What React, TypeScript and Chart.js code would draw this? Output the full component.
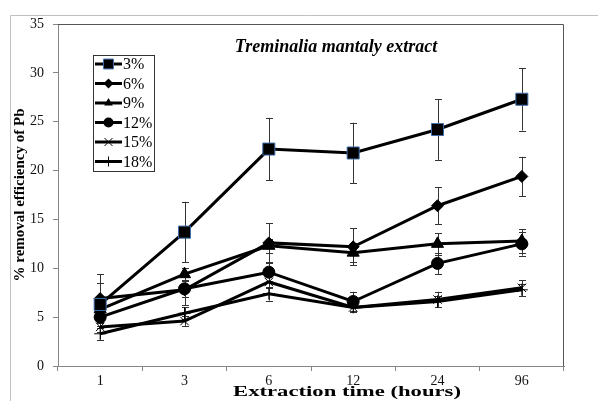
import React, { useEffect, useRef } from 'react';
import { Chart, registerables } from 'chart.js';

Chart.register(...registerables);

// ---- data ----
const categories = ['1', '3', '6', '12', '24', '96'];
const seriesLabels = ['3%', '6%', '9%', '12%', '15%', '18%'];

const pb3 = [6.3, 13.7, 22.2, 21.8, 24.2, 27.3];
const err3 = [2.2, 3.1, 3.2, 3.1, 3.1, 3.2];
const pb6 = [6.9, 7.8, 12.6, 12.2, 16.4, 19.4];
const err6 = [2.5, 1.6, 2.0, 1.9, 1.9, 2.0];
const pb9 = [5.8, 9.4, 12.3, 11.6, 12.5, 12.8];
const err9 = [0.8, 0.6, 0.7, 1.0, 1.1, 1.2];
const pb12 = [5.0, 7.9, 9.6, 6.6, 10.5, 12.5];
const err12 = [0.6, 0.8, 0.9, 1.0, 1.1, 1.2];
const pb15 = [4.0, 4.6, 8.6, 6.0, 6.8, 8.0];
const err15 = [0.5, 0.5, 0.6, 0.5, 0.8, 0.8];
const pb18 = [3.3, 5.4, 7.4, 6.0, 6.6, 7.8];
const err18 = [0.6, 0.6, 0.7, 0.5, 0.6, 0.6];

const yMin = 0;
const yMax = 35;
const yStep = 5;

const chartTitle = 'Treminalia mantaly extract';
const xTitle = 'Extraction time (hours)';
const yTitle = '% removal efficiency of Pb';

const values = [pb3, pb6, pb9, pb12, pb15, pb18];
const errors = [err3, err6, err9, err12, err15, err18];
const markers = ['rect', 'rectRot', 'triangle', 'circle', 'crossRot', 'cross'];
const markerRadius = [8.5, 6, 7, 6, 6, 6];

const SERIF = '"Liberation Serif", "Times New Roman", serif';

function drawMarker(ctx: CanvasRenderingContext2D, style: string, x: number, y: number, r: number, border: string) {
  ctx.save();
  ctx.fillStyle = '#000';
  ctx.strokeStyle = border;
  ctx.lineWidth = 1;
  ctx.beginPath();
  if (style === 'rect') {
    const s = Math.SQRT1_2 * r;
    ctx.rect(x - s, y - s, 2 * s, 2 * s);
    ctx.fill();
    ctx.stroke();
  } else if (style === 'rectRot') {
    ctx.moveTo(x, y - r);
    ctx.lineTo(x + r, y);
    ctx.lineTo(x, y + r);
    ctx.lineTo(x - r, y);
    ctx.closePath();
    ctx.fill();
  } else if (style === 'triangle') {
    ctx.moveTo(x, y - r);
    ctx.lineTo(x + r * 0.866, y + r * 0.5);
    ctx.lineTo(x - r * 0.866, y + r * 0.5);
    ctx.closePath();
    ctx.fill();
  } else if (style === 'circle') {
    ctx.arc(x, y, r, 0, Math.PI * 2);
    ctx.fill();
  } else if (style === 'crossRot') {
    const s = r * 0.8;
    ctx.moveTo(x - s, y - s);
    ctx.lineTo(x + s, y + s);
    ctx.moveTo(x + s, y - s);
    ctx.lineTo(x - s, y + s);
    ctx.strokeStyle = '#000';
    ctx.stroke();
  } else if (style === 'cross') {
    ctx.moveTo(x, y - r);
    ctx.lineTo(x, y + r);
    ctx.moveTo(x - r, y);
    ctx.lineTo(x + r, y);
    ctx.strokeStyle = '#000';
    ctx.stroke();
  }
  ctx.restore();
}

const decorPlugin = {
  id: 'decor',
  beforeDraw(chart: any) {
    const { ctx } = chart;
    ctx.save();
    ctx.fillStyle = '#fff';
    ctx.fillRect(0, 0, chart.width, chart.height);
    // outer frame
    ctx.strokeStyle = '#c0c0c0';
    ctx.lineWidth = 1;
    ctx.beginPath();
    ctx.moveTo(10.5, chart.height);
    ctx.lineTo(10.5, 15.5);
    ctx.lineTo(chart.width, 15.5);
    ctx.stroke();
    ctx.restore();
  },
  beforeDatasetsDraw(chart: any) {
    const { ctx } = chart;
    const xs = chart.scales.x;
    const ys = chart.scales.y;
    ctx.save();
    ctx.strokeStyle = '#333';
    ctx.lineWidth = 1;
    errors.forEach((errArr, si) => {
      errArr.forEach((e, i) => {
        const v = values[si][i];
        const x = Math.round(xs.getPixelForValue(i)) + 0.5;
        const yt = ys.getPixelForValue(v + e);
        const yb = ys.getPixelForValue(v - e);
        ctx.beginPath();
        ctx.moveTo(x, yt);
        ctx.lineTo(x, yb);
        ctx.moveTo(x - 3.5, Math.round(yt) + 0.5);
        ctx.lineTo(x + 3.5, Math.round(yt) + 0.5);
        ctx.moveTo(x - 3.5, Math.round(yb) + 0.5);
        ctx.lineTo(x + 3.5, Math.round(yb) + 0.5);
        ctx.stroke();
      });
    });
    ctx.restore();
  },
  afterDraw(chart: any) {
    const { ctx, chartArea } = chart;
    ctx.save();
    // plot frame top/right
    ctx.strokeStyle = '#555';
    ctx.lineWidth = 1;
    ctx.beginPath();
    ctx.moveTo(chartArea.left, chartArea.top + 0.5);
    ctx.lineTo(chartArea.right - 0.5, chartArea.top + 0.5);
    ctx.lineTo(chartArea.right - 0.5, chartArea.bottom);
    ctx.stroke();

    // chart title
    ctx.fillStyle = '#000';
    ctx.textAlign = 'center';
    ctx.textBaseline = 'middle';
    ctx.font = `bold italic 18px ${SERIF}`;
    ctx.fillText(chartTitle, 336, 47);

    // x title (stretched horizontally like the reference)
    ctx.font = `bold 15px ${SERIF}`;
    const tw = ctx.measureText(xTitle).width;
    const targetW = 228;
    ctx.save();
    ctx.translate(347, 392);
    ctx.scale(targetW / tw, 1);
    ctx.fillText(xTitle, 0, 0);
    ctx.restore();

    // y title
    ctx.save();
    ctx.translate(20, (chartArea.top + chartArea.bottom) / 2);
    ctx.rotate(-Math.PI / 2);
    ctx.fillText(yTitle, 0, 0);
    ctx.restore();

    // legend
    const lx = 93, ly = 55, lw = 61, lh = 116;
    ctx.strokeStyle = '#333';
    ctx.lineWidth = 1;
    ctx.strokeRect(lx + 0.5, ly + 0.5, lw, lh);
    ctx.font = `16px ${SERIF}`;
    ctx.textAlign = 'left';
    seriesLabels.forEach((lab, i) => {
      const cy = 64 + i * 19.5;
      ctx.strokeStyle = '#000';
      ctx.lineWidth = 3;
      ctx.beginPath();
      ctx.moveTo(95, cy);
      ctx.lineTo(122, cy);
      ctx.stroke();
      drawMarker(ctx, markers[i], 108.5, cy, i === 0 ? 7 : 5, i === 0 ? '#3d6da8' : '#000');
      ctx.fillStyle = '#000';
      ctx.fillText(lab, 123, cy + 1);
    });
    ctx.restore();
  },
};

export default function App() {
  const ref = useRef<HTMLCanvasElement | null>(null);

  useEffect(() => {
    if (!ref.current) return;
    const datasets = values.map((vals, i) => ({
      label: seriesLabels[i],
      data: vals,
      borderColor: '#000',
      backgroundColor: '#000',
      borderWidth: 3,
      pointStyle: markers[i] as any,
      pointRadius: markerRadius[i],
      pointBackgroundColor: '#000',
      pointBorderColor: i === 0 ? '#3d6da8' : '#000',
      pointBorderWidth: 1,
      tension: 0,
      fill: false,
    }));
    const chart = new Chart(ref.current, {
      type: 'line',
      data: { labels: categories, datasets },
      plugins: [decorPlugin],
      options: {
        responsive: false,
        animation: false,
        devicePixelRatio: 1,
        layout: { padding: { left: 10, top: 24, right: 34, bottom: 0 } },
        plugins: {
          legend: { display: false },
          tooltip: { enabled: false },
          title: { display: false },
        },
        scales: {
          x: {
            type: 'category',
            offset: true,
            grid: { offset: true, drawOnChartArea: false, drawTicks: true, tickLength: 5, color: '#868686' },
            border: { color: '#868686', width: 1 },
            ticks: { font: { family: SERIF, size: 14 }, color: '#111', padding: 2, maxRotation: 0, autoSkip: false },
            afterFit: (s: any) => { s.height = 35; },
          },
          y: {
            min: yMin,
            max: yMax,
            grid: { drawOnChartArea: false, drawTicks: true, tickLength: 5, color: '#868686' },
            border: { color: '#868686', width: 1 },
            ticks: { stepSize: yStep, font: { family: SERIF, size: 14 }, color: '#111', padding: 9 },
            afterFit: (s: any) => { s.width = 48; },
          },
        },
      },
    });
    return () => chart.destroy();
  }, []);

  return (
    <div style={{ position: 'absolute', left: 0, top: 0, width: 598, height: 401 }}>
      <canvas ref={ref} width={598} height={401} style={{ display: 'block' }} />
    </div>
  );
}
